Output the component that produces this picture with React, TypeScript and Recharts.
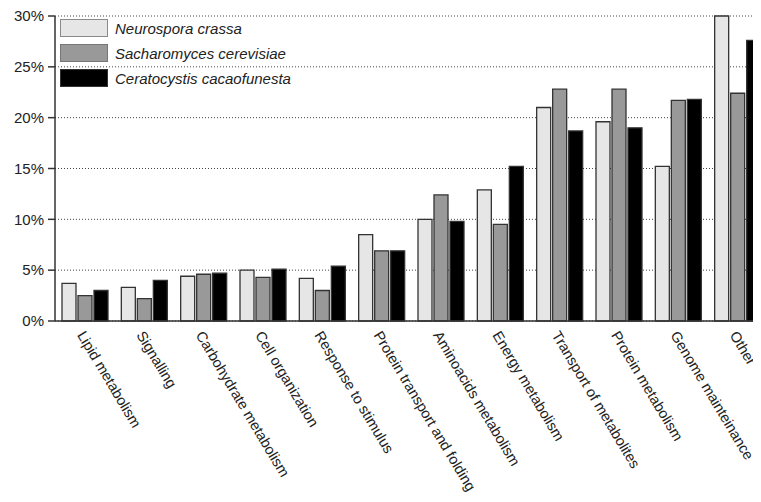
import React from "react";
import { BarChart, Bar, XAxis, YAxis, CartesianGrid } from "recharts";

const categories = [
  "Lipid metabolism",
  "Signalling",
  "Carbohydrate metabolism",
  "Cell organization",
  "Response to stimulus",
  "Protein transport and folding",
  "Aminoacids metabolism",
  "Energy metabolism",
  "Transport of metabolites",
  "Protein metabolism",
  "Genome mainteinance",
  "Other",
];

const neurospora = [3.7, 3.3, 4.4, 5.0, 4.2, 8.5, 10.0, 12.9, 21.0, 19.6, 15.2, 30.0];
const sacharomyces = [2.5, 2.2, 4.6, 4.3, 3.0, 6.9, 12.4, 9.5, 22.8, 22.8, 21.7, 22.4];
const ceratocystis = [3.0, 4.0, 4.7, 5.1, 5.4, 6.9, 9.8, 15.2, 18.7, 19.0, 21.8, 27.6];

const yTicks = [0, 5, 10, 15, 20, 25, 30];

const series = [
  { key: "neurospora", name: "Neurospora crassa", fill: "#e6e6e6", legendStroke: "#8a8a8a" },
  { key: "sacharomyces", name: "Sacharomyces cerevisiae", fill: "#999999", legendStroke: "#777777" },
  { key: "ceratocystis", name: "Ceratocystis cacaofunesta", fill: "#000000", legendStroke: "#333333" },
];

const data = categories.map((name, i) => ({
  name,
  neurospora: neurospora[i],
  sacharomyces: sacharomyces[i],
  ceratocystis: ceratocystis[i],
}));

const FONT = '"Liberation Sans", Arial, sans-serif';

const AngledTick = (props: any) => {
  const { x, y, payload } = props;
  const tx = x - 8;
  const ty = y + 14;
  return (
    <text
      x={tx}
      y={ty}
      transform={`rotate(59, ${tx}, ${ty})`}
      textAnchor="start"
      fontSize={14.6}
      fontFamily={FONT}
      fill="#222"
    >
      {payload.value}
    </text>
  );
};

// legend drawn as an overlay so it doesn't push the plot area around
const LegendBox = () => (
  <div style={{ position: "absolute", left: 60, top: 19, fontFamily: FONT, whiteSpace: "nowrap" }}>
    {series.map((s) => (
      <div key={s.key} style={{ display: "flex", alignItems: "center", height: 18, marginBottom: 7 }}>
        <div
          style={{
            width: 46,
            height: 16,
            background: s.fill,
            border: `1px solid ${s.legendStroke}`,
          }}
        />
        <span style={{ marginLeft: 7, fontSize: 15, fontStyle: "italic", color: "#222" }}>{s.name}</span>
      </div>
    ))}
  </div>
);

export default function App() {
  return (
    <div
      style={{
        margin: -8,
        width: 761,
        height: 502,
        overflow: "hidden",
        background: "#fff",
        position: "relative",
      }}
    >
      <BarChart
        width={770}
        height={502}
        data={data}
        margin={{ top: 16, right: 3, left: 0, bottom: 0 }}
        barCategoryGap={7}
        barGap={2}
      >
        <CartesianGrid vertical={false} stroke="#444" strokeDasharray="1 2" />
        <XAxis
          dataKey="name"
          interval={0}
          height={181}
          tickLine={false}
          tickSize={0}
          tickMargin={0}
          axisLine={{ stroke: "#333", strokeWidth: 1.5 }}
          tick={<AngledTick />}
        />
        <YAxis
          width={55}
          domain={[0, 30]}
          ticks={yTicks}
          tickFormatter={(v) => `${v}%`}
          tickSize={7}
          tickMargin={4}
          axisLine={{ stroke: "#333", strokeWidth: 1.5 }}
          tickLine={{ stroke: "#333", strokeWidth: 1.5 }}
          tick={{ fontSize: 15, fontFamily: FONT, fill: "#222" }}
        />
        {series.map((s) => (
          <Bar
            key={s.key}
            dataKey={s.key}
            name={s.name}
            fill={s.fill}
            stroke="#333"
            strokeWidth={1.3}
            isAnimationActive={false}
          />
        ))}
      </BarChart>
      <LegendBox />
    </div>
  );
}
